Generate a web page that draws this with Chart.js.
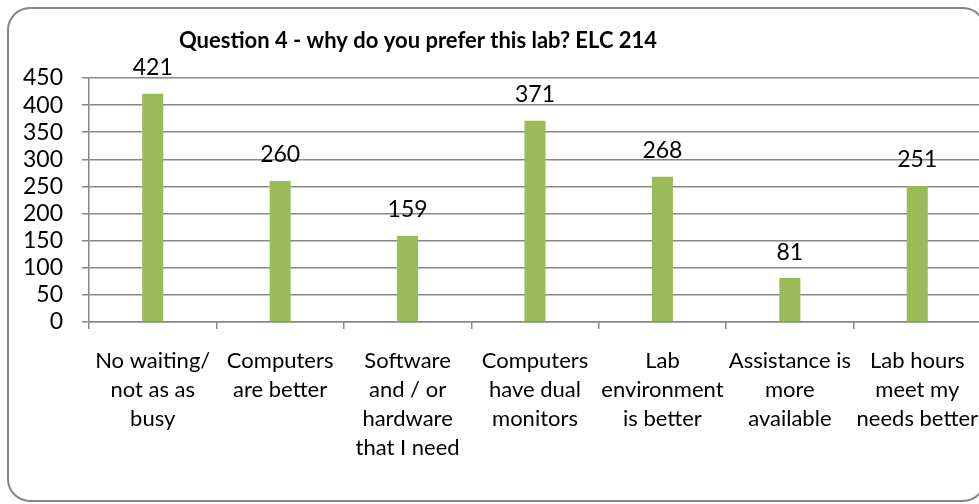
<!DOCTYPE html>
<html>
<head>
<meta charset="utf-8">
<script src="https://cdn.jsdelivr.net/npm/chart.js@4"></script>
<style>
  html, body { margin: 0; padding: 0; background: #fff; overflow: hidden; }
  #clip { position: relative; width: 979px; height: 504px; overflow: hidden; }
  #chart { position: absolute; left: 0; top: 0; }
</style>
</head>
<body>
<div id="clip"><canvas id="chart" width="990" height="504"></canvas></div>
<script>
const titleText = "Question 4 - why do you prefer this lab? ELC 214";
const categories = [
  ["No waiting/", "not as as", "busy"],
  ["Computers", "are better"],
  ["Software", "and / or", "hardware", "that I need"],
  ["Computers", "have dual", "monitors"],
  ["Lab", "environment", "is better"],
  ["Assistance is", "more", "available"],
  ["Lab hours", "meet my", "needs better"],
];
const responses = [421, 260, 159, 371, 268, 81, 251];
const yTicks = [0, 50, 100, 150, 200, 250, 300, 350, 400, 450];

const gridGray = "#878787";
const barGreen = "#9BBB59";
const fontFamily = "Lato, 'Open Sans', sans-serif";

// frame + title + value labels, drawn on top of the chart
const decorations = {
  id: "decorations",
  beforeDraw(chart) {
    const ctx = chart.ctx;
    ctx.save();
    ctx.fillStyle = "#fff";
    ctx.fillRect(0, 0, chart.width, chart.height);
    ctx.restore();
  },
  afterDraw(chart) {
    const ctx = chart.ctx;
    ctx.save();
    ctx.strokeStyle = gridGray;
    ctx.lineWidth = 2;
    ctx.beginPath();
    ctx.roundRect(8, 8, 977, 493, 22);
    ctx.stroke();

    ctx.fillStyle = "#000";
    ctx.font = "bold 22px " + fontFamily;
    ctx.textAlign = "center";
    ctx.textBaseline = "middle";
    ctx.fillText(titleText, 418, 41);

    ctx.font = "23px " + fontFamily;
    const meta = chart.getDatasetMeta(0);
    meta.data.forEach((bar, i) => {
      ctx.fillText(String(chart.data.datasets[0].data[i]), bar.x, bar.y - 26);
    });
    ctx.restore();
  },
};

new Chart(document.getElementById("chart"), {
  type: "bar",
  data: {
    labels: categories,
    datasets: [
      {
        label: "Responses",
        data: responses,
        backgroundColor: barGreen,
        borderWidth: 0,
        barPercentage: 0.165,
        categoryPercentage: 1,
      },
    ],
  },
  options: {
    responsive: false,
    animation: false,
    devicePixelRatio: 1,
    layout: { padding: { top: 78, left: 0, right: 9, bottom: 0 } },
    plugins: {
      legend: { display: false },
      title: { display: false },
      tooltip: { enabled: false },
    },
    scales: {
      y: {
        min: 0,
        max: 450,
        afterFit: (scale) => { scale.width = 89; },
        afterBuildTicks: (scale) => {
          scale.ticks = yTicks.map((v) => ({ value: v }));
        },
        ticks: {
          color: "#000",
          font: { family: fontFamily, size: 23 },
          padding: 19,
          autoSkip: false,
        },
        grid: { color: gridGray, lineWidth: 1.5, tickLength: 7 },
        border: { color: gridGray, width: 1.5 },
      },
      x: {
        afterFit: (scale) => {
          scale.height = 182;
          scale.paddingLeft = 0;
          scale.paddingRight = 0;
        },
        ticks: {
          color: "#000",
          font: { family: fontFamily, size: 22, lineHeight: 1.32 },
          padding: 17,
          maxRotation: 0,
          autoSkip: false,
        },
        grid: {
          drawOnChartArea: false,
          drawTicks: true,
          tickLength: 7,
          color: gridGray,
          lineWidth: 1.5,
        },
        border: { color: gridGray, width: 1.5 },
      },
    },
  },
  plugins: [decorations],
});
</script>
</body>
</html>
